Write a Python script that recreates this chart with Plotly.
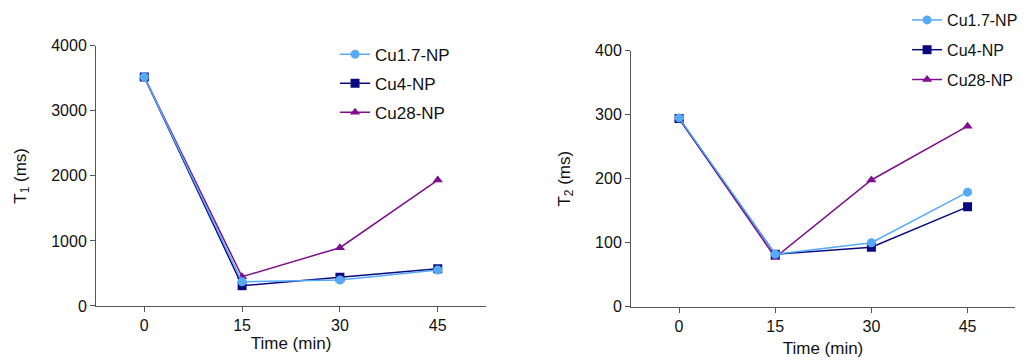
import plotly.graph_objects as go

time_min = [0, 15, 30, 45]
series_names = ["Cu1.7-NP", "Cu4-NP", "Cu28-NP"]
t1_cu17 = [3520, 373, 400, 553]
t1_cu4 = [3520, 312, 441, 573]
t1_cu28 = [3520, 450, 896, 1936]
t2_cu17 = [295, 82, 100, 179]
t2_cu4 = [294, 82, 93, 156]
t2_cu28 = [294, 77, 198, 282]
x_ticks = [0, 15, 30, 45]
t1_ticks = [0, 1000, 2000, 3000, 4000]
t2_ticks = [0, 100, 200, 300, 400]

colors = {"Cu1.7-NP": "#55a9f7", "Cu4-NP": "#0a0a80", "Cu28-NP": "#7f0f8c"}
symbols = {"Cu1.7-NP": "circle", "Cu4-NP": "square", "Cu28-NP": "triangle-up"}
ranks = {"Cu1.7-NP": 1, "Cu4-NP": 2, "Cu28-NP": 3}

FONT = "Liberation Sans, Arial, sans-serif"
fig = go.Figure()

left = {"Cu1.7-NP": t1_cu17, "Cu4-NP": t1_cu4, "Cu28-NP": t1_cu28}
right = {"Cu1.7-NP": t2_cu17, "Cu4-NP": t2_cu4, "Cu28-NP": t2_cu28}

for name in ["Cu28-NP", "Cu4-NP", "Cu1.7-NP"]:
    fig.add_trace(go.Scatter(
        x=time_min, y=left[name], name=name, mode="lines+markers",
        line=dict(color=colors[name], width=1.5),
        marker=dict(symbol=symbols[name], size=9, color=colors[name]),
        xaxis="x", yaxis="y", legend="legend", legendrank=ranks[name],
        legendgroup="L" + name))
for name in ["Cu28-NP", "Cu4-NP", "Cu1.7-NP"]:
    fig.add_trace(go.Scatter(
        x=time_min, y=right[name], name=name, mode="lines+markers",
        line=dict(color=colors[name], width=1.5),
        marker=dict(symbol=symbols[name], size=9, color=colors[name]),
        xaxis="x2", yaxis="y2", legend="legend2", legendrank=ranks[name],
        legendgroup="R" + name))

axis_common = dict(showline=True, linecolor="#555555", linewidth=1, ticks="outside",
                   ticklen=5, tickcolor="#555555", showgrid=False, zeroline=False,
                   automargin=False,
                   tickfont=dict(family=FONT, size=16, color="#111"))

legend_common = dict(xanchor="left", yanchor="top", bgcolor="rgba(0,0,0,0)",
                     itemwidth=30, traceorder="grouped")

fig.update_layout(
    width=1034, height=362,
    margin=dict(l=60, r=19, t=3, b=20),
    plot_bgcolor="white", paper_bgcolor="white",
    font=dict(family=FONT, color="#111"),
    xaxis=dict(domain=[0.0377, 0.4461], range=[-7.4, 52.4], tickvals=x_ticks,
               anchor="y", title=dict(text="Time (min)", font=dict(size=17), standoff=0),
               **axis_common),
    yaxis=dict(domain=[0.1062, 0.8740], range=[0, 4000], tickvals=t1_ticks,
               anchor="x", title=dict(text="T<sub>1</sub> (ms)", font=dict(size=17), standoff=20),
               **axis_common),
    xaxis2=dict(domain=[0.5979, 1.0], range=[-7.5, 52.4], tickvals=x_ticks,
                anchor="y2", title=dict(text="Time (min)", font=dict(size=17), standoff=8),
                **axis_common),
    yaxis2=dict(domain=[0.1041, 0.8593], range=[0, 400], tickvals=t2_ticks,
                anchor="x2", title=dict(text="T<sub>2</sub> (ms)", font=dict(size=17), standoff=20),
                **axis_common),
    legend=dict(x=0.288, y=0.9009, font=dict(family=FONT, size=17, color="#111"),
                tracegroupgap=4, **legend_common),
    legend2=dict(x=0.887, y=1.0, font=dict(family=FONT, size=16, color="#111"),
                 tracegroupgap=6, **legend_common),
)

fig.write_html("out.html", config={"displayModeBar": False},
               post_script="document.body.style.margin='0';document.body.style.padding='0';")
